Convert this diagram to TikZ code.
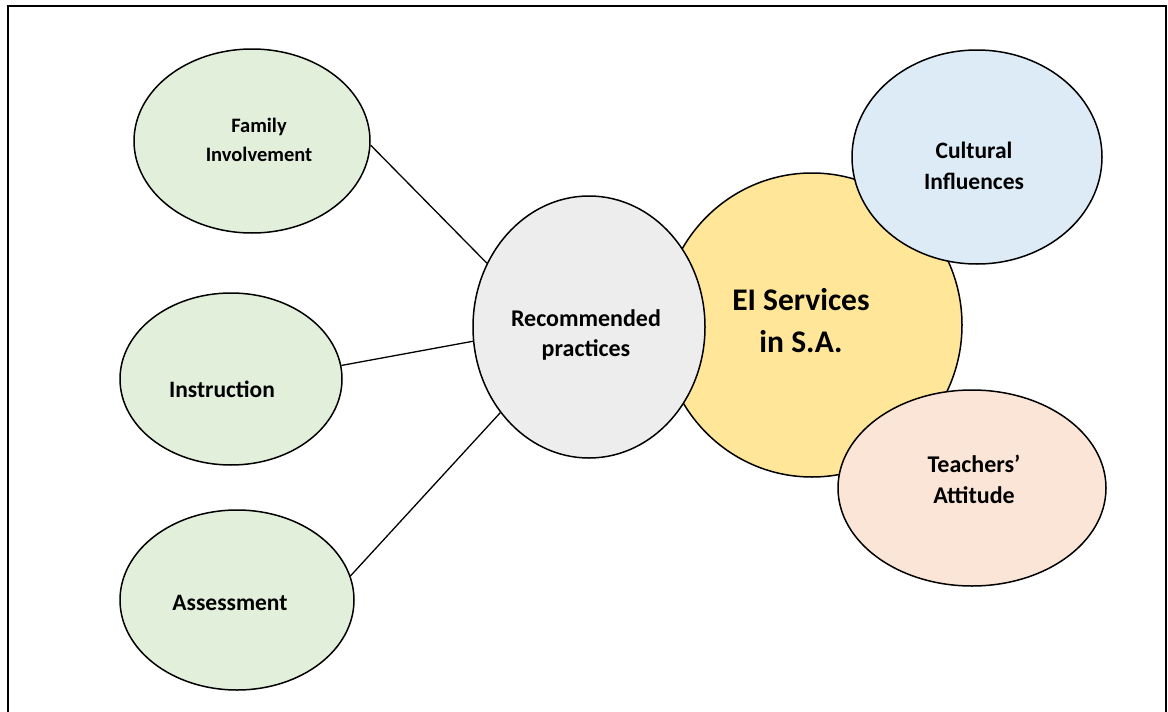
\documentclass[tikz,border=0pt]{standalone}
\usepackage{fontspec}
\setmainfont{Carlito}
\usetikzlibrary{shapes.geometric}
\definecolor{cgreen}{HTML}{E2EFDA}
\definecolor{cblue}{HTML}{DDEBF7}
\definecolor{cyellow}{HTML}{FFE699}
\definecolor{cpeach}{HTML}{FBE5D6}
\definecolor{cgray}{HTML}{EDEDED}
\tikzset{
  bub/.style={ellipse, draw=black, line width=1.5pt, inner sep=0pt},
  lbl/.style={align=center, font=\bfseries, inner sep=0pt},
  conn/.style={draw=black, line width=1.3pt}
}
\begin{document}
\begin{tikzpicture}[x=1pt,y=-1pt]
\useasboundingbox (0,0) rectangle (1168,712);
\clip (0,0) rectangle (1168,712);
\fill[white] (0,0) rectangle (1168,712);
\draw[line width=1.5pt] (8,740) -- (8,6) -- (1166,6) -- (1166,740);
% center and satellites
\node[bub, fill=cyellow, minimum width=300pt, minimum height=304pt] (ei) at (812,325) {};
\node[bub, fill=cgray, minimum width=232pt, minimum height=262pt] (rec) at (589,327) {};
\node[bub, fill=cblue, minimum width=250pt, minimum height=214pt] (cul) at (977,157) {};
\node[bub, fill=cpeach, minimum width=268pt, minimum height=196pt] (tea) at (972,488) {};
\node[bub, fill=cgreen, minimum width=236pt, minimum height=184pt] (fam) at (252,141) {};
\node[bub, fill=cgreen, minimum width=222pt, minimum height=172pt] (ins) at (231,379) {};
\node[bub, fill=cgreen, minimum width=234pt, minimum height=180pt] (ass) at (237,600) {};
% connectors
\draw[conn] (fam.-2) -- (rec.148);
\draw[conn] (ins.7) -- (rec.187.4);
\draw[conn] (ass.12) -- (rec.224);
% labels
\node[lbl, font=\bfseries\fontsize{20.5}{29}\selectfont] (tfam) at (259,140) {Family\\Involvement};
\node[lbl, font=\bfseries\fontsize{23.5}{30}\selectfont] (tins) at (222,389) {Instruction};
\node[lbl, font=\bfseries\fontsize{23.5}{30}\selectfont] (tass) at (230,603) {Assessment};
\node[lbl, font=\bfseries\fontsize{24}{30}\selectfont] (trec) at (586,335) {Recommended\\practices};
\node[lbl, font=\bfseries\fontsize{31.5}{42}\selectfont] (tei) at (801,321) {EI Services\\in S.A.};
\node[lbl, font=\bfseries\fontsize{23.5}{31}\selectfont] (tcul) at (974,166) {Cultural\\Influences};
\node[lbl, font=\bfseries\fontsize{24}{31}\selectfont] (ttea) at (974,479) {Teachers’\\Attitude};
\end{tikzpicture}
\end{document}
